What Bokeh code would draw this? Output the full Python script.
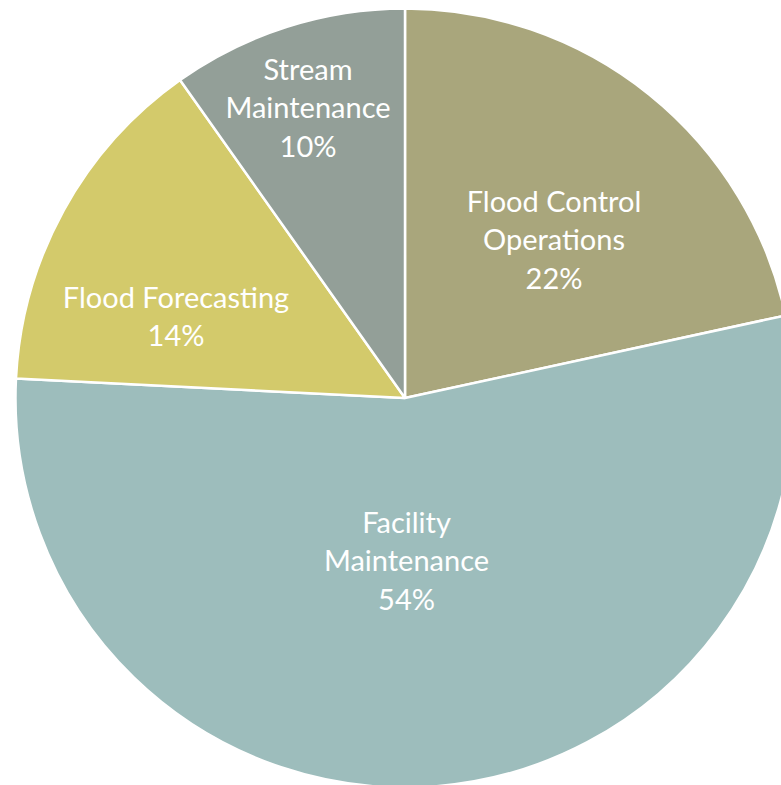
import math
from bokeh.plotting import figure
from bokeh.models import Range1d, ColumnDataSource
from bokeh.core.properties import value
from bokeh.embed import file_html
from bokeh.resources import INLINE

# ---- data ----
categories = ["Flood Control Operations", "Facility Maintenance", "Flood Forecasting", "Stream Maintenance"]
shares = [21.6, 54.2, 14.4, 9.8]
label_lines = [["Flood Control", "Operations"], ["Facility", "Maintenance"], ["Flood Forecasting"], ["Stream", "Maintenance"]]
colors = ["#A9A67C", "#9DBDBC", "#D3CA6B", "#939F98"]

# ---- layout (pixels) ----
W, H = 781, 785
CX, CY_TOP = 404.5, 397.5          # pie centre measured from figure top-left
R = 389.5
label_offsets = [(149, -159.5), (1.5, 161.5), (-229, -82.5), (-97, -291.5)]  # label centre relative to pie centre
LINE_H = 38.5
FONT = "Lato"
FONT_SIZE = "29px"

p = figure(width=W, height=H, output_backend="svg", toolbar_location=None,
           x_range=Range1d(0, W), y_range=Range1d(0, H), min_border=0,
           background_fill_color="white", border_fill_color="white")
p.axis.visible = False
p.grid.visible = False
p.outline_line_color = None

CY = H - CY_TOP
total = sum(shares)
starts, ends = [], []
cum = 0.0
for s in shares:
    a0 = math.pi / 2 - 2 * math.pi * cum / total
    cum += s
    a1 = math.pi / 2 - 2 * math.pi * cum / total
    starts.append(a1)
    ends.append(a0)

src = ColumnDataSource(dict(start=starts, end=ends, color=colors, cat=categories))
p.wedge(x=CX, y=CY, radius=R, start_angle="start", end_angle="end", direction="anticlock",
        fill_color="color", line_color="white", line_width=2.5, source=src)

tx, ty, tt = [], [], []
for lines, s, (dx, dy) in zip(label_lines, shares, label_offsets):
    all_lines = lines + [f"{round(s)}%"]
    n = len(all_lines)
    for i, t in enumerate(all_lines):
        yt = CY_TOP + dy + (i - (n - 1) / 2) * LINE_H
        tx.append(CX + dx)
        ty.append(H - yt)
        tt.append(t)

p.text(x=tx, y=ty, text=tt, text_align="center", text_baseline="middle",
       text_color="white", text_font=value(FONT), text_font_size=FONT_SIZE)

open("out.html", "w").write(file_html(p, INLINE))
